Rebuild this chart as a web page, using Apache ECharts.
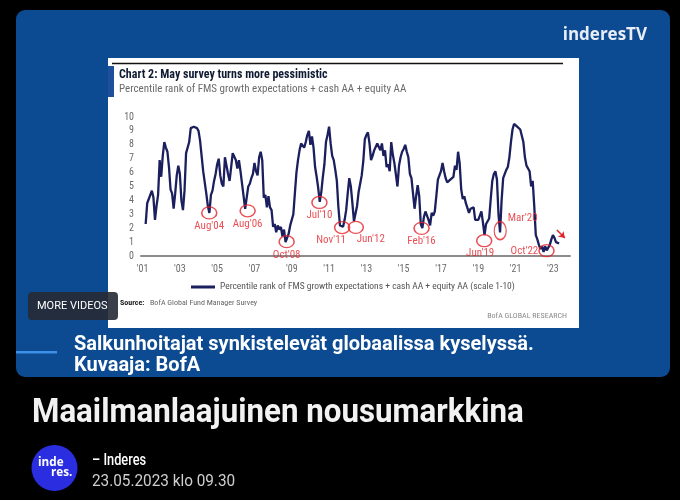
<!DOCTYPE html>
<html>
<head>
<meta charset="utf-8">
<script src="https://cdn.jsdelivr.net/npm/echarts@6/dist/echarts.min.js"></script>
<style>
  html, body { margin: 0; padding: 0; background: #000; }
  #main { width: 680px; height: 500px; }
</style>
</head>
<body>
<div id="main"></div>
<script>
// FMS composite, one value per month starting Jan 2001 (no reading for Jan/Feb 2001)
const fmsRank = [
  null, null, 2.3, 3.8, 4.1, 4.0, 4.7, 4.2, 2.6, 3.6, 4.4, 6.9,   // 2001
  5.7, 7.2, 8.2, 7.8, 7.5, 6.4, 4.8, 4.5, 3.4, 4.5, 5.8, 6.5,     // 2002
  5.9, 4.0, 3.3, 4.7, 7.4, 7.5, 8.2, 9.2, 9.2, 9.3, 9.4, 9.2,     // 2003
  9.0, 8.3, 7.2, 6.1, 6.0, 4.5, 3.6, 3.1, 4.4, 4.7, 5.4, 5.9,     // 2004
  6.6, 7.0, 5.8, 5.2, 5.0, 7.1, 7.2, 5.9, 5.4, 6.4, 7.4, 7.5,     // 2005
  6.9, 6.3, 6.9, 6.1, 5.2, 4.3, 3.4, 4.2, 5.0, 5.2, 5.6, 5.9,     // 2006
  6.7, 6.1, 5.8, 7.1, 7.5, 6.9, 4.2, 4.4, 3.5, 4.3, 3.5, 3.3,     // 2007
  2.1, 2.3, 1.7, 2.2, 1.9, 2.1, 1.4, 1.9, 1.0, 1.3, 1.6, 2.2,     // 2008
  2.3, 3.0, 4.5, 6.0, 6.9, 7.6, 8.1, 8.1, 7.8, 8.2, 8.7, 9.0,     // 2009
  8.0, 8.6, 7.8, 6.4, 5.7, 4.9, 3.9, 4.6, 5.7, 6.6, 8.2, 8.7,     // 2010
  9.3, 8.1, 7.2, 6.9, 6.2, 5.4, 3.5, 2.2, 2.2, 2.1, 2.6, 3.3,     // 2011
  4.5, 5.6, 5.0, 3.8, 2.5, 2.4, 3.6, 4.6, 5.2, 5.8, 6.8, 8.4,     // 2012
  8.7, 8.9, 8.1, 6.9, 7.2, 7.6, 7.7, 8.1, 8.0, 7.6, 8.1, 7.2,     // 2013
  7.6, 6.4, 6.6, 6.1, 8.2, 7.3, 6.7, 6.6, 5.0, 6.5, 7.1, 7.5,     // 2014
  7.7, 8.0, 7.5, 7.1, 5.9, 5.6, 4.5, 3.4, 4.3, 5.1, 4.3, 2.3,     // 2015
  2.0, 2.8, 3.2, 2.9, 2.6, 2.2, 3.1, 2.9, 3.2, 4.3, 5.5, 5.8,     // 2016
  6.1, 6.7, 6.1, 5.6, 5.3, 5.3, 5.5, 5.5, 5.7, 6.5, 6.2, 7.5,     // 2017
  6.7, 4.8, 4.1, 4.3, 3.8, 3.9, 3.1, 3.4, 3.3, 3.5, 2.6, 2.6,     // 2018
  2.6, 2.7, 3.2, 2.4, 1.5, 2.3, 2.3, 2.7, 4.1, 5.4, 5.9, 6.1,     // 2019
  5.5, 3.0, 1.7, 4.0, 5.6, 5.7, 6.2, 6.4, 7.1, 8.2, 9.1, 9.5,     // 2020
  9.6, 9.3, 9.2, 9.1, 9.0, 8.2, 7.1, 6.5, 6.5, 6.1, 5.0, 5.4,     // 2021
  3.6, 1.5, 1.2, 0.8, 0.5, 0.7, 0.3, 0.7, 0.4, 0.3, 0.8, 1.2,     // 2022
  1.5, 1.3, 1.0, 0.9, 0.9                                         // 2023
];
const firstYear = 2001;
const yearTicks = [2001, 2003, 2005, 2007, 2009, 2011, 2013, 2015, 2017, 2019, 2021, 2023];
const tickLabels = ["'01", "'03", "'05", "'07", "'09", "'11", "'13", "'15", "'17", "'19", "'21", "'23"];

// circled lows (month index from Jan 2001, value)
const callouts = ["Aug'04", "Aug'06", "Oct'08", "Jul'10", "Nov'11", "Jun'12", "Feb'16", "Jun'19", "Mar'20", "Oct'22"];
const calloutMonth = [42.9, 67.6, 92.7, 113.8, 128.4, 137.2, 179.5, 219.8, 230.1, 259.9];
const calloutValue = [3.1, 3.25, 1.03, 3.85, 2.05, 2.06, 1.99, 1.1, 1.82, 0.38];
// small red arrow after the last reading
const arrowFrom = [266.6, 1.87];
const arrowTo = [271.7, 1.29];

const seriesName = 'Percentile rank of FMS growth expectations + cash AA + equity AA (scale 1-10)';
const red = '#e3242b';
const navy = '#1b1f5e';

const tickMonths = yearTicks.map(y => (y - firstYear) * 12);

const labelPlace = {
  "Nov'11": { offset: [-11, 0] },
  "Jun'12": { offset: [15, -1] },
  "Jun'19": { offset: [-4, -1] },
  "Mar'20": { position: 'right', distance: 1, offset: [0, -12] },
  "Oct'22": { position: 'left', distance: 0, offset: [0, 1] }
};

const calloutData = callouts.map((name, i) => ({
  name: name,
  value: [calloutMonth[i], calloutValue[i]],
  symbolSize: name === "Mar'20" ? [12, 18] : [15, 12],
  label: Object.assign({ position: 'bottom', distance: 1 }, labelPlace[name] || {})
}));

function txt(x, y, text, font, fill, extra, align) {
  const a = align || 'left';
  return Object.assign({
    type: 'text', x: x, y: y, z: 20,
    style: {
      text: text, font: font, fill: fill,
      align: a, verticalAlign: 'middle',
      textAlign: a, textVerticalAlign: 'middle'
    }
  }, extra || {});
}

const chart = echarts.init(document.getElementById('main'), null, { renderer: 'canvas' });

const narrow = '"Liberation Sans Narrow", "Roboto Condensed", Roboto, sans-serif';

const option = {
  animation: false,
  backgroundColor: '#000',
  grid: { left: 141, right: 110, top: 117, bottom: 244, containLabel: false },
  legend: {
    show: true,
    left: 186,
    top: 277,
    itemWidth: 24,
    itemHeight: 3,
    icon: 'rect',
    data: [seriesName],
    textStyle: { fontSize: 9.5, color: '#555', fontFamily: narrow }
  },
  xAxis: {
    type: 'value',
    min: -1,
    max: 275,
    splitLine: { show: false },
    axisTick: { show: false },
    axisLine: { show: true, onZero: false, lineStyle: { color: '#8c8c8c', width: 2 } },
    axisLabel: {
      customValues: tickMonths,
      margin: 8,
      fontSize: 10,
      color: '#6b6b6b',
      fontFamily: narrow,
      formatter: v => tickLabels[tickMonths.indexOf(Math.round(v))] || ''
    }
  },
  yAxis: {
    type: 'value',
    min: 0,
    max: 10,
    interval: 1,
    splitLine: { show: false },
    axisTick: { show: false },
    axisLine: { show: false },
    axisLabel: { margin: 7, fontSize: 10, color: '#6b6b6b', fontFamily: narrow }
  },
  series: [
    {
      type: 'line',
      name: seriesName,
      data: fmsRank.map((v, i) => [i, v]),
      showSymbol: false,
      lineStyle: { color: navy, width: 2.3 },
      itemStyle: { color: navy },
      z: 3
    },
    {
      type: 'scatter',
      name: 'lows',
      data: calloutData,
      symbol: 'circle',
      silent: true,
      itemStyle: { color: 'rgba(0,0,0,0)', borderColor: red, borderWidth: 1.4 },
      label: {
        show: true,
        formatter: p => p.name,
        color: red,
        fontSize: 11,
        fontFamily: narrow
      },
      markLine: {
        silent: true,
        symbol: ['none', 'arrow'],
        symbolSize: 6,
        label: { show: false },
        lineStyle: { color: red, width: 1.5, type: 'solid' },
        data: [[{ coord: arrowFrom }, { coord: arrowTo }]]
      },
      z: 4
    }
  ],
  graphic: [
    { type: 'rect', z: -10, shape: { x: 16, y: 10, width: 654, height: 367, r: 9 }, style: { fill: '#0c4a91' } },
    { type: 'rect', z: -9, shape: { x: 108, y: 58, width: 471, height: 270 }, style: { fill: '#fff' } },
    { type: 'rect', z: -8, shape: { x: 108, y: 66, width: 6, height: 31 }, style: { fill: '#1d4f9b' } },
    { type: 'line', z: -8, shape: { x1: 112, y1: 63.5, x2: 563, y2: 63.5 }, style: { stroke: '#111', lineWidth: 1.5 } },

    txt(647, 35, 'inderesTV', 'bold 17px "Open Sans"', '#e9eef6', null, 'right'),

    txt(119, 75, 'Chart 2: May survey turns more pessimistic', 'bold 12px ' + narrow, '#101a33'),
    txt(119, 89, 'Percentile rank of FMS growth expectations + cash AA + equity AA', '11px ' + narrow, '#6b6b6b'),
    txt(120, 303, 'Source:', 'bold 8px ' + narrow, '#222'),
    txt(150, 303, 'BofA Global Fund Manager Survey', '8px ' + narrow, '#666'),
    txt(567, 316, 'BofA GLOBAL RESEARCH', '8px ' + narrow, '#8a8a8a', null, 'right'),

    { type: 'rect', z: 19, shape: { x: 28, y: 292, width: 90, height: 28, r: 4 }, style: { fill: 'rgba(38,42,52,0.9)' } },
    txt(37, 306, 'MORE VIDEOS', '11px Roboto', '#fff'),

    { type: 'rect', z: 19, shape: { x: 16, y: 351, width: 41, height: 2.5 }, style: { fill: '#3d8fe8' } },
    txt(74, 345, 'Salkunhoitajat synkistelevät globaalissa kyselyssä.', 'bold 20px Roboto', '#fff'),
    txt(74, 366, 'Kuvaaja: BofA', 'bold 20px Roboto', '#fff'),

    txt(32, 413, 'Maailmanlaajuinen nousumarkkina', 'bold 34px Roboto', '#f2f2f2', { scaleX: 0.92 }),

    { type: 'circle', z: 19, shape: { cx: 54.5, cy: 468, r: 23 }, style: { fill: '#2b2ee0' } },
    txt(38, 462, 'inde', 'bold 13px "Open Sans"', '#fff', { scaleX: 0.9 }),
    txt(51, 472, 'res.', 'bold 13px "Open Sans"', '#fff', { scaleX: 0.9 }),
    txt(92, 461, '– Inderes', '500 16px Roboto', '#fff', { scaleX: 0.8 }),
    txt(92, 482, '23.05.2023 klo 09.30', '17px Roboto', '#cfcfcf', { scaleX: 0.9 })
  ]
};

chart.setOption(option);
</script>
</body>
</html>
